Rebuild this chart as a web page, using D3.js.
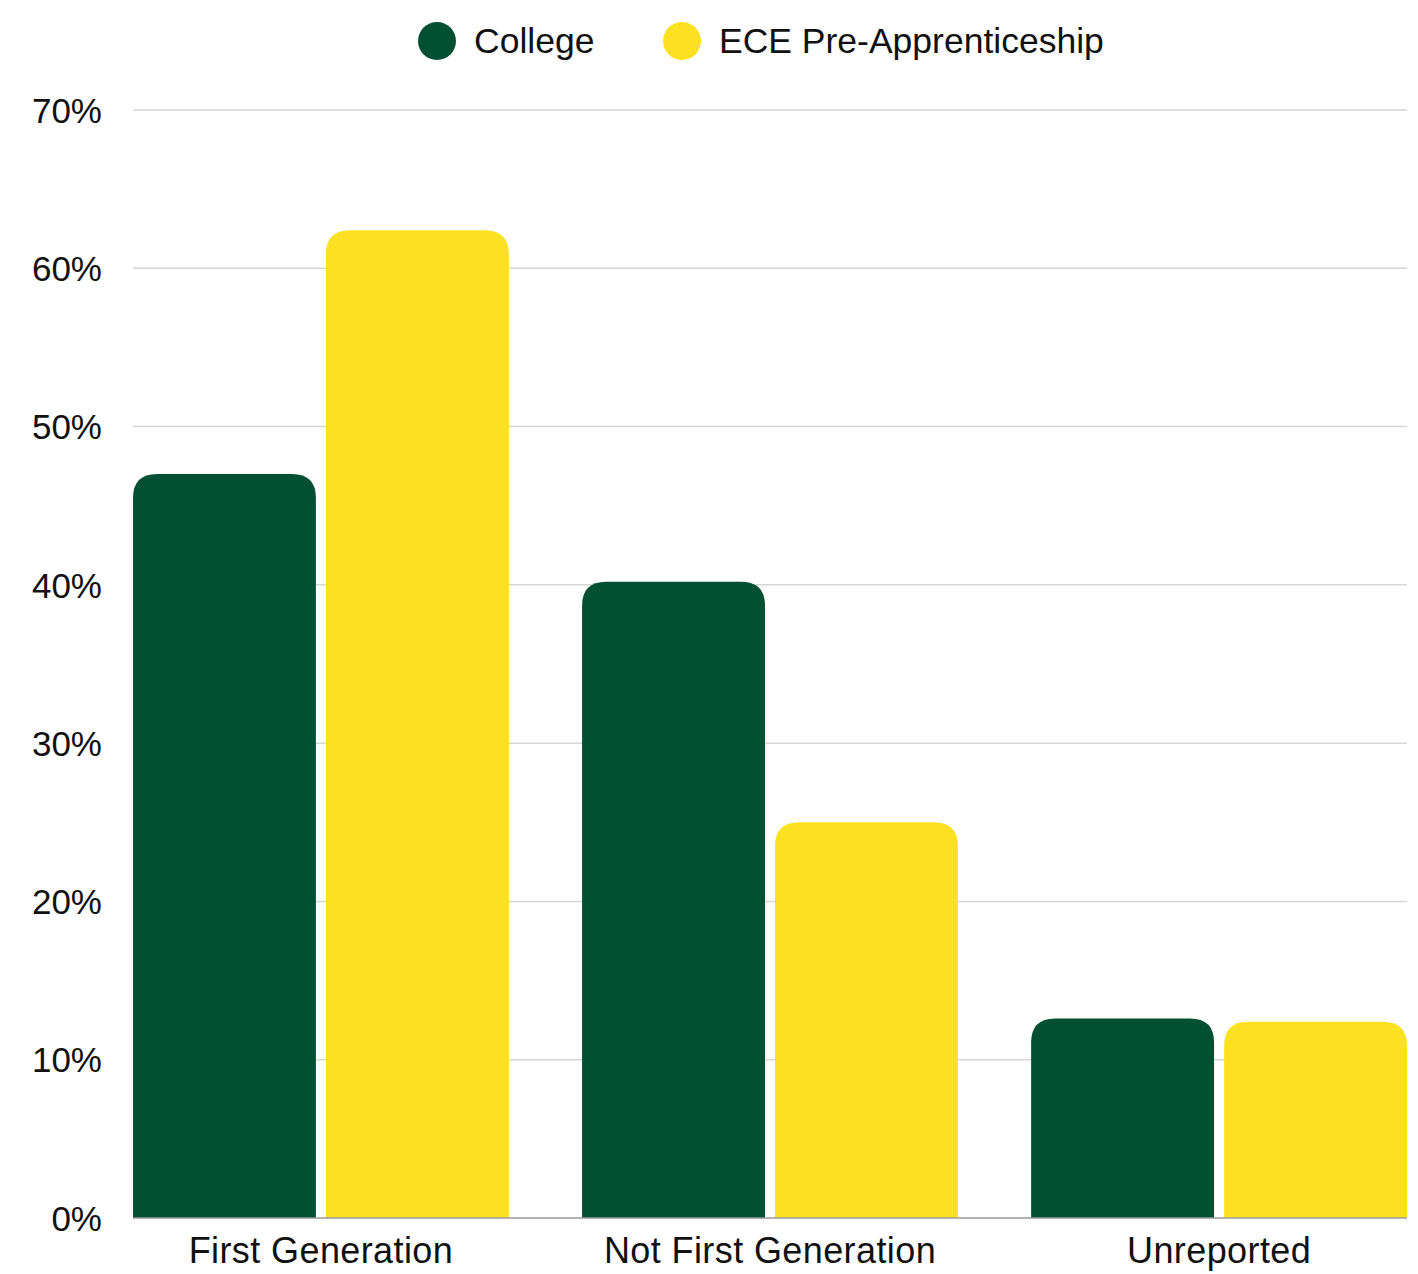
<!DOCTYPE html>
<html><head><meta charset="utf-8">
<script src="https://cdn.jsdelivr.net/npm/d3@7"></script>
<style>body{margin:0;background:#fff}svg{display:block}</style>
</head><body>
<svg id="c" width="1418" height="1274"></svg>
<script>
const categories = ["First Generation", "Not First Generation", "Unreported"];
const seriesNames = ["College", "ECE Pre-Apprenticeship"];
const college = [47.0, 40.2, 12.6];
const ece = [62.4, 25.0, 12.4];
const yTicks = [0, 10, 20, 30, 40, 50, 60, 70];
const colors = ["#034f33", "#fbe122"];

const FONT = "'Liberation Sans','Arial',sans-serif";
const svg = d3.select("#c");
const pL = 133, pR = 1407, pT = 110, pB = 1218;

const y = d3.scaleLinear().domain([0, 70]).range([pB, pT]);
const x0 = d3.scaleBand().domain(categories).range([pL, pR]).paddingInner(0.163).paddingOuter(0);
const x1 = d3.scaleBand().domain(seriesNames).range([0, x0.bandwidth()]).paddingInner(0.052);

// gridlines
svg.append("g").selectAll("line").data(yTicks.filter(d => d > 0)).join("line")
  .attr("x1", pL).attr("x2", pR).attr("y1", d => y(d)).attr("y2", d => y(d))
  .attr("stroke", "#d6d6d6").attr("stroke-width", 1.5);

// y axis labels
const yAxis = d3.axisLeft(y).tickValues(yTicks).tickFormat(d => d + "%").tickSize(0).tickPadding(0);
const ya = svg.append("g").attr("transform", `translate(102,0)`).call(yAxis);
ya.select(".domain").remove();
ya.selectAll("text").attr("font-family", FONT).attr("font-size", 35).attr("fill", "#111").attr("dy", "0.35em");

// bars with rounded top
const r = 24;
function barPath(x, w, yt, yb) {
  const rr = Math.min(r, (yb - yt), w / 2);
  return `M${x},${yb}V${yt + rr}Q${x},${yt} ${x + rr},${yt}H${x + w - rr}Q${x + w},${yt} ${x + w},${yt + rr}V${yb}Z`;
}
const data = [];
categories.forEach((c, i) => {
  data.push({cat: c, s: seriesNames[0], v: college[i], col: colors[0]});
  data.push({cat: c, s: seriesNames[1], v: ece[i], col: colors[1]});
});
svg.append("g").selectAll("path").data(data).join("path")
  .attr("d", d => barPath(x0(d.cat) + x1(d.s), x1.bandwidth(), y(d.v), y(0)))
  .attr("fill", d => d.col);

// baseline
svg.append("line").attr("x1", pL).attr("x2", pR).attr("y1", y(0)).attr("y2", y(0))
  .attr("stroke", "#9a9a9a").attr("stroke-width", 1.5);

// x labels
const xAxis = d3.axisBottom(x0).tickSize(0).tickPadding(0);
const xa = svg.append("g").attr("transform", `translate(0,${pB})`).call(xAxis);
xa.select(".domain").remove();
xa.selectAll("text").attr("font-family", FONT).attr("font-size", 36).attr("fill", "#111")
  .attr("dy", null).attr("y", 45).attr("letter-spacing", 0.4);

// legend
const legX = [437, 682];
const lg = svg.append("g");
seriesNames.forEach((s, i) => {
  lg.append("ellipse").attr("cx", legX[i]).attr("cy", 41).attr("rx", 19).attr("ry", 19).attr("fill", colors[i]);
  lg.append("text").attr("x", legX[i] + 37).attr("y", 41).attr("dy", "0.35em")
    .attr("font-family", FONT).attr("font-size", 35.5).attr("fill", "#111").text(s);
});
</script>
</body></html>
